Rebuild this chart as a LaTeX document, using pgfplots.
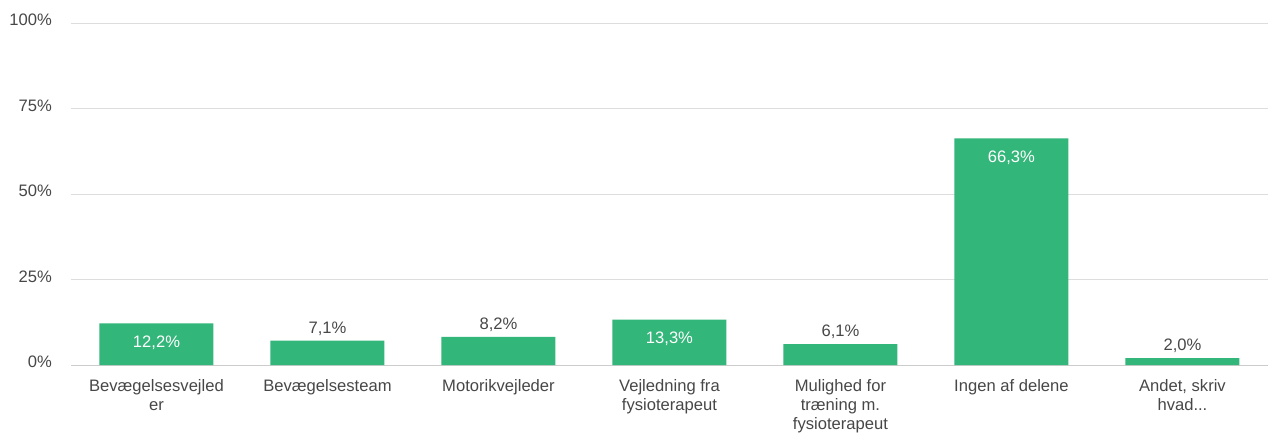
\documentclass[border=0pt]{standalone}
\usepackage{pgfplots}
\pgfplotsset{compat=1.18}
\usepackage{fontspec}
\setmainfont{Liberation Sans}
\definecolor{barc}{HTML}{33B679}
\definecolor{txt}{HTML}{474747}
\definecolor{gridc}{HTML}{DDDDDD}
\definecolor{zeroc}{HTML}{CCCCCC}
\begin{document}
\begin{tikzpicture}
\begin{axis}[
  scale only axis, width=1197bp, height=342bp,
  xmin=-0.5, xmax=6.5, ymin=0, ymax=100,
  ytick={0,25,50,75,100},
  yticklabel={\pgfmathprintnumber{\tick}\%},
  /pgf/number format/assume math mode=true,
  ymajorgrids, grid style={draw=gridc, line width=0.9bp},
  axis line style={draw=none},
  major tick length=0pt,
  xtick={0,1,2,3,4,5,6},
  xticklabels={{Bevægelsesvejled\\er},{Bevægelsesteam},{Motorikvejleder},{Vejledning fra\\fysioterapeut},{Mulighed for\\træning m.\\fysioterapeut},{Ingen af delene},{Andet, skriv\\hvad.{}.{}.}},
  every tick label/.append style={font=\fontsize{16.6bp}{19bp}\selectfont, text=txt, inner sep=0pt},
  xticklabel style={align=center, anchor=north, yshift=-14bp},
  yticklabel style={anchor=east, xshift=-19bp, yshift=3bp},
  clip=false,
]
\coordinate (O) at (rel axis cs:0,0);
\draw[zeroc, line width=1bp] (rel axis cs:0,0) -- (rel axis cs:1,0);
\addplot[ybar, bar width=114bp, bar shift=0pt, fill=barc, draw=none,
  nodes near coords={\pgfmathprintnumber[fixed,precision=1,fixed zerofill,use comma]{\pgfplotspointmeta}\%},
  every node near coord/.append style={font=\fontsize{16.6bp}{19bp}\selectfont, text=white, anchor=north, inner sep=0pt, yshift=-12bp}]
  coordinates {(0,12.2) (3,13.3) (5,66.3)};
\addplot[ybar, bar width=114bp, bar shift=0pt, fill=barc, draw=none,
  nodes near coords={\pgfmathprintnumber[fixed,precision=1,fixed zerofill,use comma]{\pgfplotspointmeta}\%},
  every node near coord/.append style={font=\fontsize{16.6bp}{19bp}\selectfont, text=txt, anchor=south, inner sep=0pt, yshift=5bp}]
  coordinates {(1,7.1) (2,8.2) (4,6.1) (6,2.0)};
\end{axis}
\pgfresetboundingbox
\path[use as bounding box] ([xshift=-71bp,yshift=-71bp]O) rectangle ++(1268bp,436bp);
\end{tikzpicture}
\end{document}
